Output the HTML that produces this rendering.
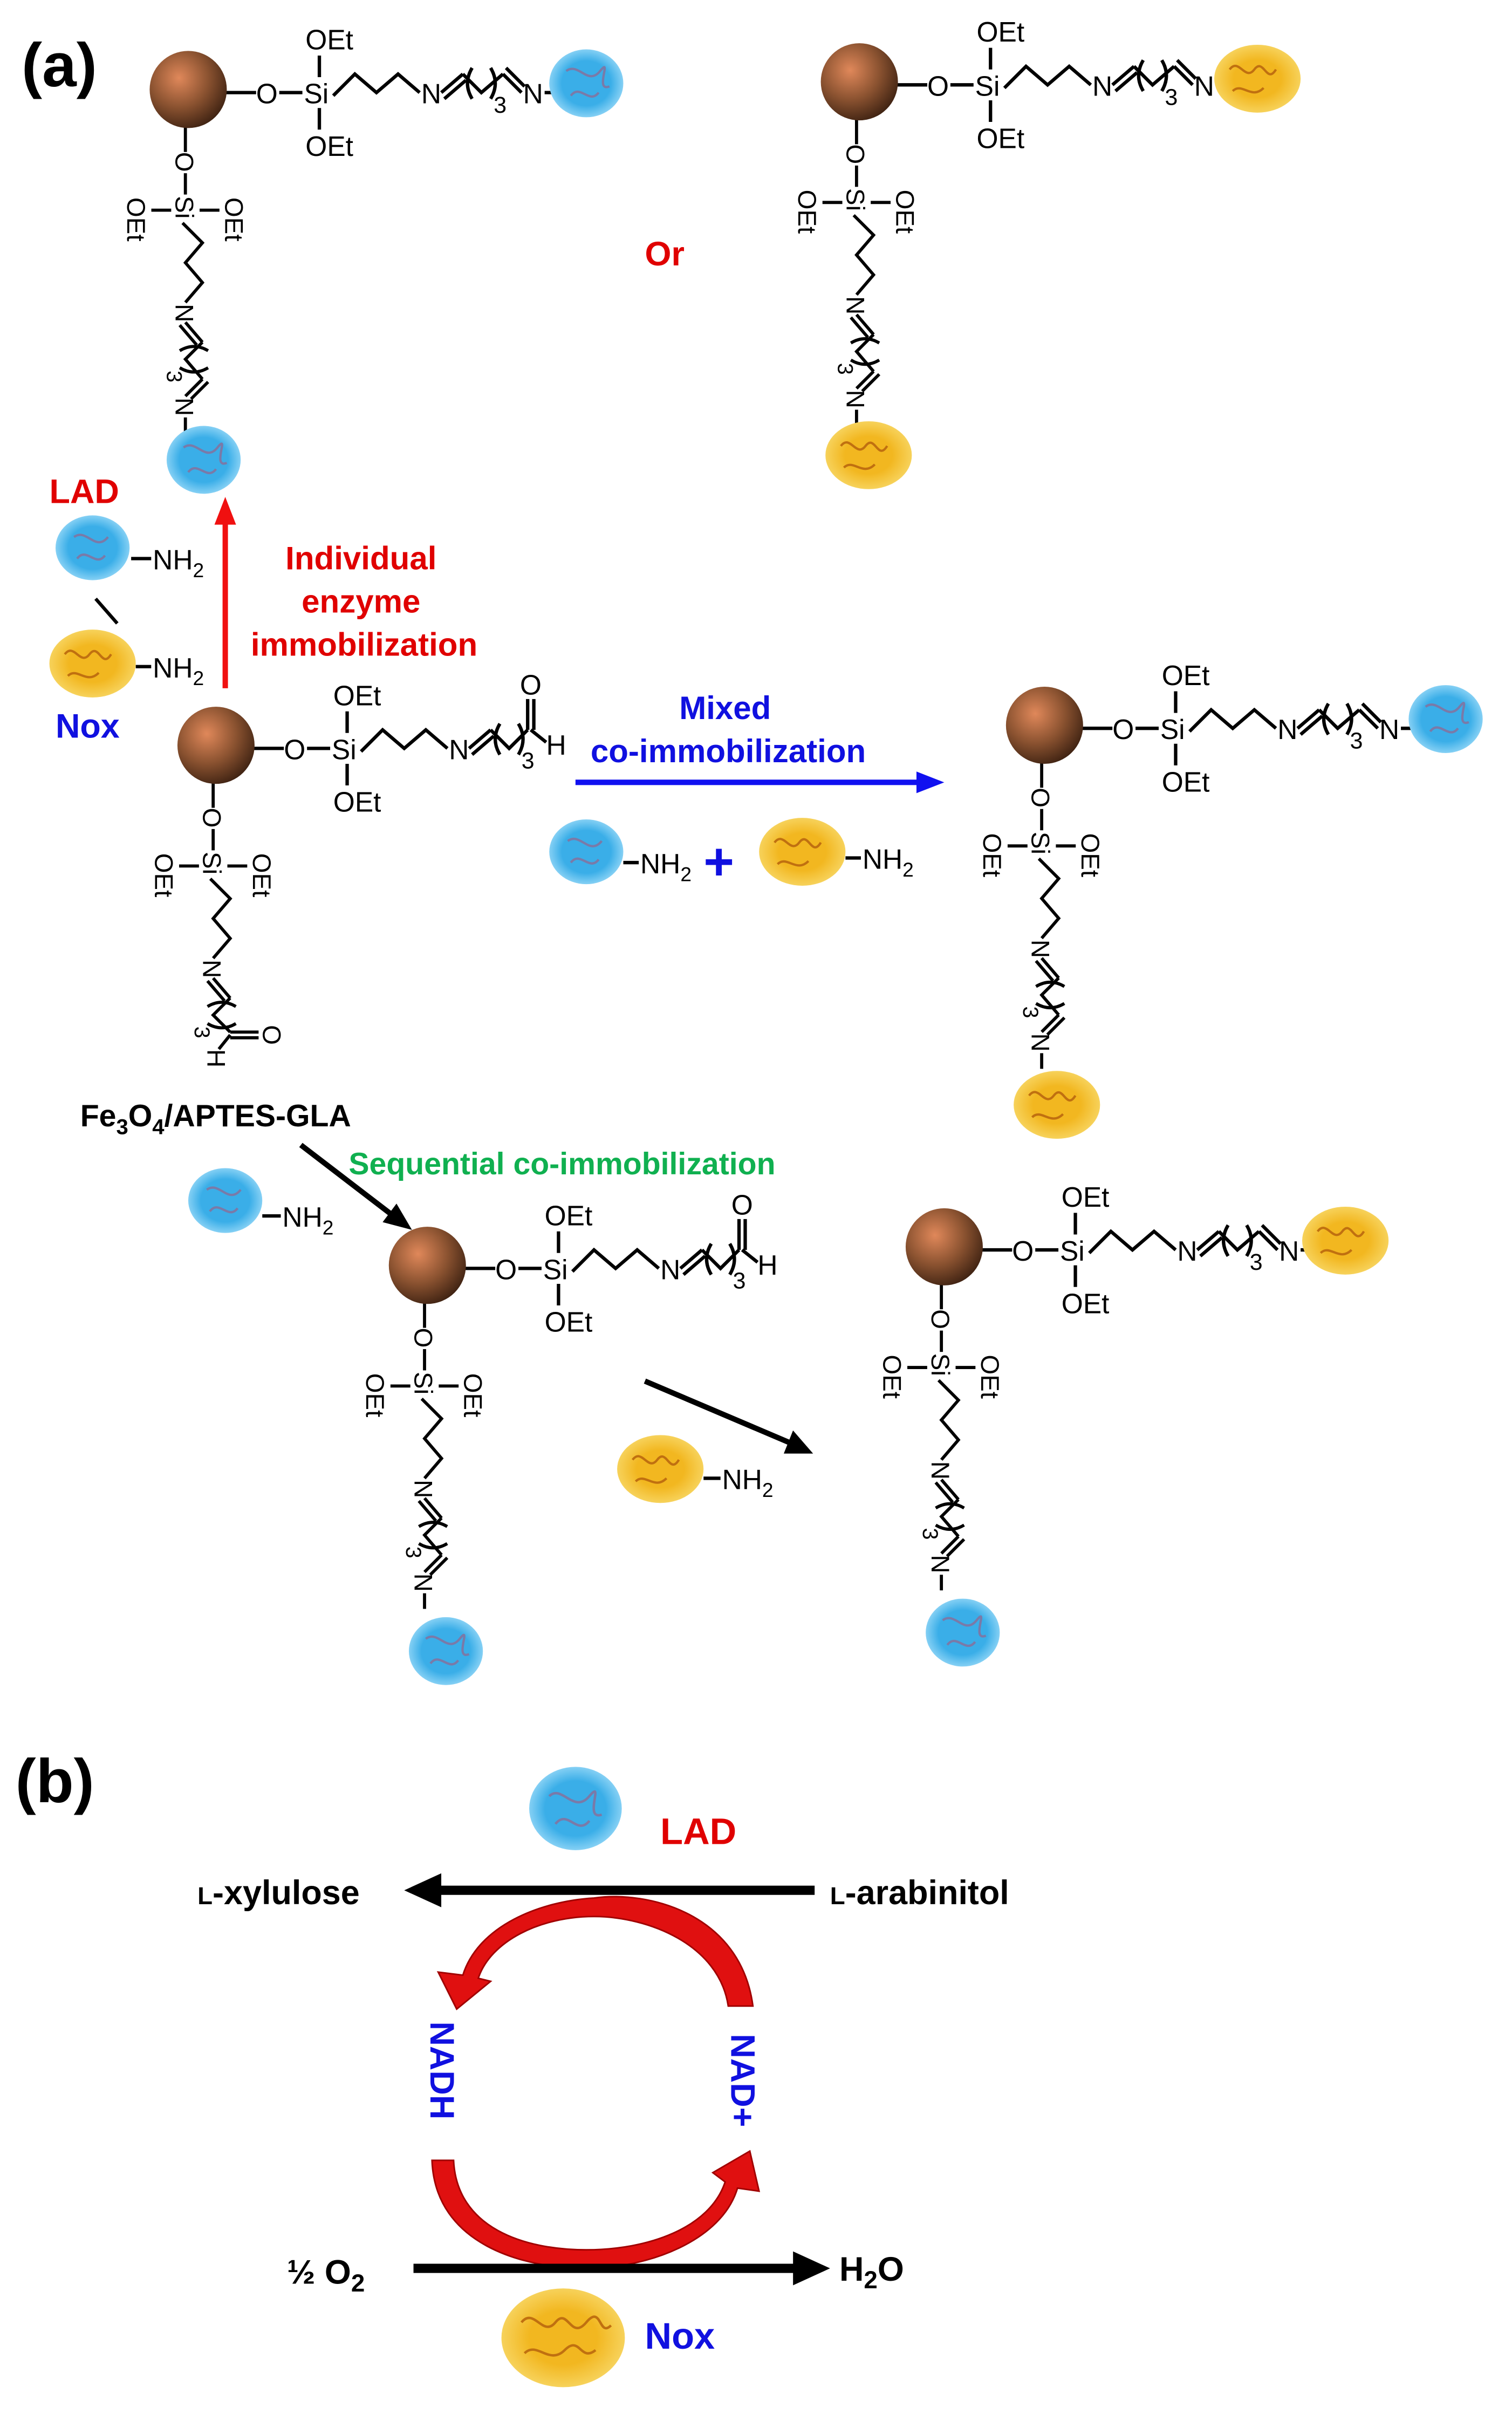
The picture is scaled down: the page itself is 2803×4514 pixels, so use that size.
<!DOCTYPE html>
<html><head><meta charset="utf-8"><style>
html,body{margin:0;padding:0;background:#fff;}
svg{display:block;}
text{font-family:"Liberation Sans",Arial,sans-serif;font-weight:bold;}
.c{fill:#000;font-size:18px;font-weight:normal;}
.b{stroke:#000;stroke-width:2.2;fill:none;}
</style></head><body>
<svg width="2803" height="4514" viewBox="0 0 980 1578" preserveAspectRatio="none" xmlns="http://www.w3.org/2000/svg">
<defs>
<radialGradient id="sp" cx="0.38" cy="0.35" r="0.7">
<stop offset="0" stop-color="#e0885a"/><stop offset="0.55" stop-color="#8a5230"/><stop offset="1" stop-color="#3e2212"/>
</radialGradient>
<radialGradient id="bl" cx="0.5" cy="0.5" r="0.55">
<stop offset="0.6" stop-color="#3aaee8"/><stop offset="1" stop-color="#9bdaf8"/>
</radialGradient>
<radialGradient id="yl" cx="0.5" cy="0.5" r="0.55">
<stop offset="0.5" stop-color="#f2b720"/><stop offset="1" stop-color="#f8d868"/>
</radialGradient>
</defs>

<!-- U1 -->
<g transform="translate(122,58)">
 <g>
  <line class="b" x1="24" y1="2" x2="44" y2="2"/><text class="c" x="44" y="9">O</text><line class="b" x1="59" y1="2" x2="74" y2="2"/><text class="c" x="75" y="9">Si</text>
  <line class="b" x1="85" y1="-8" x2="85" y2="-22"/><text class="c" x="76" y="-26">OEt</text>
  <line class="b" x1="85" y1="12" x2="85" y2="26"/><text class="c" x="76" y="43">OEt</text>
  <polyline class="b" points="94,4 108,-10 122,2 136,-10 150,2"/><text class="c" x="151" y="9">N</text>
  <path class="b" d="M164,2 L178,-10 M166,6 L180,-6"/><path class="b" d="M184,-14 q-6,10 0,20 M196,-14 q6,10 0,20 M178,-10 L190,2 L204,-10"/><text class="c" x="198" y="15" style="font-size:15px">3</text>
  <path class="b" d="M204,-10 L216,2 M206,-14 L218,-2"/><text class="c" x="217" y="9">N</text><line class="b" x1="231" y1="2" x2="242" y2="2"/>
 </g>
 <g transform="rotate(90) scale(0.92)">
  <line class="b" x1="24" y1="2" x2="44" y2="2"/><text class="c" x="44" y="9">O</text><line class="b" x1="59" y1="2" x2="74" y2="2"/><text class="c" x="75" y="9">Si</text>
  <line class="b" x1="85" y1="-8" x2="85" y2="-22"/><text class="c" x="76" y="-26">OEt</text>
  <line class="b" x1="85" y1="12" x2="85" y2="26"/><text class="c" x="76" y="43">OEt</text>
  <polyline class="b" points="94,4 108,-10 122,2 136,-10 150,2"/><text class="c" x="151" y="9">N</text>
  <path class="b" d="M164,2 L178,-10 M166,6 L180,-6"/><path class="b" d="M184,-14 q-6,10 0,20 M196,-14 q6,10 0,20 M178,-10 L190,2 L204,-10"/><text class="c" x="198" y="15" style="font-size:15px">3</text>
  <path class="b" d="M204,-10 L216,2 M206,-14 L218,-2"/><text class="c" x="217" y="9">N</text><line class="b" x1="231" y1="2" x2="242" y2="2"/>
 </g>
 <circle r="25" fill="url(#sp)"/>
 <ellipse cx="258" cy="-4" rx="24" ry="22" fill="url(#bl)"/><path d="M245,-12 c8,-6 14,10 22,0 s-4,14 6,10 M248,4 c6,-8 12,6 18,-2" stroke="#7a7aa8" stroke-width="1.5" fill="none"/>
 <ellipse cx="10" cy="240" rx="24" ry="22" fill="url(#bl)"/><path d="M-3,232 c8,-6 14,10 22,0 s-4,14 6,10 M0,248 c6,-8 12,6 18,-2" stroke="#7a7aa8" stroke-width="1.5" fill="none"/>
</g>

<!-- U2 -->
<g transform="translate(557,53)">
 <g>
  <line class="b" x1="24" y1="2" x2="44" y2="2"/><text class="c" x="44" y="9">O</text><line class="b" x1="59" y1="2" x2="74" y2="2"/><text class="c" x="75" y="9">Si</text>
  <line class="b" x1="85" y1="-8" x2="85" y2="-22"/><text class="c" x="76" y="-26">OEt</text>
  <line class="b" x1="85" y1="12" x2="85" y2="26"/><text class="c" x="76" y="43">OEt</text>
  <polyline class="b" points="94,4 108,-10 122,2 136,-10 150,2"/><text class="c" x="151" y="9">N</text>
  <path class="b" d="M164,2 L178,-10 M166,6 L180,-6"/><path class="b" d="M184,-14 q-6,10 0,20 M196,-14 q6,10 0,20 M178,-10 L190,2 L204,-10"/><text class="c" x="198" y="15" style="font-size:15px">3</text>
  <path class="b" d="M204,-10 L216,2 M206,-14 L218,-2"/><text class="c" x="217" y="9">N</text><line class="b" x1="231" y1="2" x2="242" y2="2"/>
 </g>
 <g transform="rotate(90) scale(0.92)">
  <line class="b" x1="24" y1="2" x2="44" y2="2"/><text class="c" x="44" y="9">O</text><line class="b" x1="59" y1="2" x2="74" y2="2"/><text class="c" x="75" y="9">Si</text>
  <line class="b" x1="85" y1="-8" x2="85" y2="-22"/><text class="c" x="76" y="-26">OEt</text>
  <line class="b" x1="85" y1="12" x2="85" y2="26"/><text class="c" x="76" y="43">OEt</text>
  <polyline class="b" points="94,4 108,-10 122,2 136,-10 150,2"/><text class="c" x="151" y="9">N</text>
  <path class="b" d="M164,2 L178,-10 M166,6 L180,-6"/><path class="b" d="M184,-14 q-6,10 0,20 M196,-14 q6,10 0,20 M178,-10 L190,2 L204,-10"/><text class="c" x="198" y="15" style="font-size:15px">3</text>
  <path class="b" d="M204,-10 L216,2 M206,-14 L218,-2"/><text class="c" x="217" y="9">N</text><line class="b" x1="231" y1="2" x2="242" y2="2"/>
 </g>
 <circle r="25" fill="url(#sp)"/>
 <ellipse cx="258" cy="-2" rx="28" ry="22" fill="url(#yl)"/><path d="M240,-8 c6,-8 10,8 16,0 s8,10 14,0 M242,6 c6,-6 12,6 20,-2" stroke="#c07010" stroke-width="1.5" fill="none"/>
 <ellipse cx="6" cy="242" rx="28" ry="22" fill="url(#yl)"/><path d="M-12,236 c6,-8 10,8 16,0 s8,10 14,0 M-10,250 c6,-6 12,6 20,-2" stroke="#c07010" stroke-width="1.5" fill="none"/>
</g>

<!-- U3 center aldehyde -->
<g transform="translate(140,483)">
 <g>
  <line class="b" x1="24" y1="2" x2="44" y2="2"/><text class="c" x="44" y="9">O</text><line class="b" x1="59" y1="2" x2="74" y2="2"/><text class="c" x="75" y="9">Si</text>
  <line class="b" x1="85" y1="-8" x2="85" y2="-22"/><text class="c" x="76" y="-26">OEt</text>
  <line class="b" x1="85" y1="12" x2="85" y2="26"/><text class="c" x="76" y="43">OEt</text>
  <polyline class="b" points="94,4 108,-10 122,2 136,-10 150,2"/><text class="c" x="151" y="9">N</text>
  <path class="b" d="M164,2 L178,-10 M166,6 L180,-6"/><path class="b" d="M184,-14 q-6,10 0,20 M196,-14 q6,10 0,20 M178,-10 L190,2 L202,-10"/><text class="c" x="198" y="15" style="font-size:15px">3</text>
  <path class="b" d="M202,-10 L202,-30 M206,-10 L206,-30 M204,-10 L214,-2"/><text class="c" x="197" y="-33">O</text><text class="c" x="214" y="6">H</text>
 </g>
 <g transform="rotate(90) scale(0.92)">
  <line class="b" x1="24" y1="2" x2="44" y2="2"/><text class="c" x="44" y="9">O</text><line class="b" x1="59" y1="2" x2="74" y2="2"/><text class="c" x="75" y="9">Si</text>
  <line class="b" x1="85" y1="-8" x2="85" y2="-22"/><text class="c" x="76" y="-26">OEt</text>
  <line class="b" x1="85" y1="12" x2="85" y2="26"/><text class="c" x="76" y="43">OEt</text>
  <polyline class="b" points="94,4 108,-10 122,2 136,-10 150,2"/><text class="c" x="151" y="9">N</text>
  <path class="b" d="M164,2 L178,-10 M166,6 L180,-6"/><path class="b" d="M184,-14 q-6,10 0,20 M196,-14 q6,10 0,20 M178,-10 L190,2 L202,-10"/><text class="c" x="198" y="15" style="font-size:15px">3</text>
  <path class="b" d="M202,-10 L202,-30 M206,-10 L206,-30 M204,-10 L214,-2"/><text class="c" x="197" y="-33">O</text><text class="c" x="214" y="6">H</text>
 </g>
 <circle r="25" fill="url(#sp)"/>
</g>

<!-- U4 mixed -->
<g transform="translate(677,470)">
 <g>
  <line class="b" x1="24" y1="2" x2="44" y2="2"/><text class="c" x="44" y="9">O</text><line class="b" x1="59" y1="2" x2="74" y2="2"/><text class="c" x="75" y="9">Si</text>
  <line class="b" x1="85" y1="-8" x2="85" y2="-22"/><text class="c" x="76" y="-26">OEt</text>
  <line class="b" x1="85" y1="12" x2="85" y2="26"/><text class="c" x="76" y="43">OEt</text>
  <polyline class="b" points="94,4 108,-10 122,2 136,-10 150,2"/><text class="c" x="151" y="9">N</text>
  <path class="b" d="M164,2 L178,-10 M166,6 L180,-6"/><path class="b" d="M184,-14 q-6,10 0,20 M196,-14 q6,10 0,20 M178,-10 L190,2 L204,-10"/><text class="c" x="198" y="15" style="font-size:15px">3</text>
  <path class="b" d="M204,-10 L216,2 M206,-14 L218,-2"/><text class="c" x="217" y="9">N</text><line class="b" x1="231" y1="2" x2="242" y2="2"/>
 </g>
 <g transform="rotate(90) scale(0.92)">
  <line class="b" x1="24" y1="2" x2="44" y2="2"/><text class="c" x="44" y="9">O</text><line class="b" x1="59" y1="2" x2="74" y2="2"/><text class="c" x="75" y="9">Si</text>
  <line class="b" x1="85" y1="-8" x2="85" y2="-22"/><text class="c" x="76" y="-26">OEt</text>
  <line class="b" x1="85" y1="12" x2="85" y2="26"/><text class="c" x="76" y="43">OEt</text>
  <polyline class="b" points="94,4 108,-10 122,2 136,-10 150,2"/><text class="c" x="151" y="9">N</text>
  <path class="b" d="M164,2 L178,-10 M166,6 L180,-6"/><path class="b" d="M184,-14 q-6,10 0,20 M196,-14 q6,10 0,20 M178,-10 L190,2 L204,-10"/><text class="c" x="198" y="15" style="font-size:15px">3</text>
  <path class="b" d="M204,-10 L216,2 M206,-14 L218,-2"/><text class="c" x="217" y="9">N</text><line class="b" x1="231" y1="2" x2="242" y2="2"/>
 </g>
 <circle r="25" fill="url(#sp)"/>
 <ellipse cx="260" cy="-4" rx="24" ry="22" fill="url(#bl)"/><path d="M247,-12 c8,-6 14,10 22,0 s-4,14 6,10 M250,4 c6,-8 12,6 18,-2" stroke="#7a7aa8" stroke-width="1.5" fill="none"/>
 <ellipse cx="8" cy="246" rx="28" ry="22" fill="url(#yl)"/><path d="M-10,240 c6,-8 10,8 16,0 s8,10 14,0 M-8,254 c6,-6 12,6 20,-2" stroke="#c07010" stroke-width="1.5" fill="none"/>
</g>

<!-- U5 sequential step 1 -->
<g transform="translate(277,820)">
 <g>
  <line class="b" x1="24" y1="2" x2="44" y2="2"/><text class="c" x="44" y="9">O</text><line class="b" x1="59" y1="2" x2="74" y2="2"/><text class="c" x="75" y="9">Si</text>
  <line class="b" x1="85" y1="-8" x2="85" y2="-22"/><text class="c" x="76" y="-26">OEt</text>
  <line class="b" x1="85" y1="12" x2="85" y2="26"/><text class="c" x="76" y="43">OEt</text>
  <polyline class="b" points="94,4 108,-10 122,2 136,-10 150,2"/><text class="c" x="151" y="9">N</text>
  <path class="b" d="M164,2 L178,-10 M166,6 L180,-6"/><path class="b" d="M184,-14 q-6,10 0,20 M196,-14 q6,10 0,20 M178,-10 L190,2 L202,-10"/><text class="c" x="198" y="15" style="font-size:15px">3</text>
  <path class="b" d="M202,-10 L202,-30 M206,-10 L206,-30 M204,-10 L214,-2"/><text class="c" x="197" y="-33">O</text><text class="c" x="214" y="6">H</text>
 </g>
 <g transform="rotate(90) scale(0.92)">
  <line class="b" x1="24" y1="2" x2="44" y2="2"/><text class="c" x="44" y="9">O</text><line class="b" x1="59" y1="2" x2="74" y2="2"/><text class="c" x="75" y="9">Si</text>
  <line class="b" x1="85" y1="-8" x2="85" y2="-22"/><text class="c" x="76" y="-26">OEt</text>
  <line class="b" x1="85" y1="12" x2="85" y2="26"/><text class="c" x="76" y="43">OEt</text>
  <polyline class="b" points="94,4 108,-10 122,2 136,-10 150,2"/><text class="c" x="151" y="9">N</text>
  <path class="b" d="M164,2 L178,-10 M166,6 L180,-6"/><path class="b" d="M184,-14 q-6,10 0,20 M196,-14 q6,10 0,20 M178,-10 L190,2 L204,-10"/><text class="c" x="198" y="15" style="font-size:15px">3</text>
  <path class="b" d="M204,-10 L216,2 M206,-14 L218,-2"/><text class="c" x="217" y="9">N</text><line class="b" x1="231" y1="2" x2="242" y2="2"/>
 </g>
 <circle r="25" fill="url(#sp)"/>
 <ellipse cx="12" cy="250" rx="24" ry="22" fill="url(#bl)"/><path d="M-1,242 c8,-6 14,10 22,0 s-4,14 6,10 M2,258 c6,-8 12,6 18,-2" stroke="#7a7aa8" stroke-width="1.5" fill="none"/>
</g>

<!-- U6 sequential final -->
<g transform="translate(612,808)">
 <g>
  <line class="b" x1="24" y1="2" x2="44" y2="2"/><text class="c" x="44" y="9">O</text><line class="b" x1="59" y1="2" x2="74" y2="2"/><text class="c" x="75" y="9">Si</text>
  <line class="b" x1="85" y1="-8" x2="85" y2="-22"/><text class="c" x="76" y="-26">OEt</text>
  <line class="b" x1="85" y1="12" x2="85" y2="26"/><text class="c" x="76" y="43">OEt</text>
  <polyline class="b" points="94,4 108,-10 122,2 136,-10 150,2"/><text class="c" x="151" y="9">N</text>
  <path class="b" d="M164,2 L178,-10 M166,6 L180,-6"/><path class="b" d="M184,-14 q-6,10 0,20 M196,-14 q6,10 0,20 M178,-10 L190,2 L204,-10"/><text class="c" x="198" y="15" style="font-size:15px">3</text>
  <path class="b" d="M204,-10 L216,2 M206,-14 L218,-2"/><text class="c" x="217" y="9">N</text><line class="b" x1="231" y1="2" x2="242" y2="2"/>
 </g>
 <g transform="rotate(90) scale(0.92)">
  <line class="b" x1="24" y1="2" x2="44" y2="2"/><text class="c" x="44" y="9">O</text><line class="b" x1="59" y1="2" x2="74" y2="2"/><text class="c" x="75" y="9">Si</text>
  <line class="b" x1="85" y1="-8" x2="85" y2="-22"/><text class="c" x="76" y="-26">OEt</text>
  <line class="b" x1="85" y1="12" x2="85" y2="26"/><text class="c" x="76" y="43">OEt</text>
  <polyline class="b" points="94,4 108,-10 122,2 136,-10 150,2"/><text class="c" x="151" y="9">N</text>
  <path class="b" d="M164,2 L178,-10 M166,6 L180,-6"/><path class="b" d="M184,-14 q-6,10 0,20 M196,-14 q6,10 0,20 M178,-10 L190,2 L204,-10"/><text class="c" x="198" y="15" style="font-size:15px">3</text>
  <path class="b" d="M204,-10 L216,2 M206,-14 L218,-2"/><text class="c" x="217" y="9">N</text><line class="b" x1="231" y1="2" x2="242" y2="2"/>
 </g>
 <circle r="25" fill="url(#sp)"/>
 <ellipse cx="260" cy="-4" rx="28" ry="22" fill="url(#yl)"/><path d="M242,-10 c6,-8 10,8 16,0 s8,10 14,0 M244,4 c6,-6 12,6 20,-2" stroke="#c07010" stroke-width="1.5" fill="none"/>
 <ellipse cx="12" cy="250" rx="24" ry="22" fill="url(#bl)"/><path d="M-1,242 c8,-6 14,10 22,0 s-4,14 6,10 M2,258 c6,-8 12,6 18,-2" stroke="#7a7aa8" stroke-width="1.5" fill="none"/>
</g>

<!-- labels (a) -->
<text x="14" y="56" style="font-size:40px">(a)</text>
<text x="418" y="172" fill="#e00000" style="font-size:22px">Or</text>
<text x="32" y="326" fill="#e00000" style="font-size:22px">LAD</text>
<text x="36" y="478" fill="#1010e0" style="font-size:22px">Nox</text>
<ellipse cx="60" cy="355" rx="24" ry="21" fill="url(#bl)"/><path d="M48,348 c8,-6 14,10 22,0 M50,362 c6,-8 12,6 18,-2" stroke="#7a7aa8" stroke-width="1.5" fill="none"/>
<line class="b" x1="85" y1="362" x2="98" y2="362"/><text class="c" x="99" y="369">NH<tspan dy="5" style="font-size:13px">2</tspan></text>
<line class="b" x1="62" y1="388" x2="76" y2="404"/>
<ellipse cx="60" cy="430" rx="28" ry="22" fill="url(#yl)"/><path d="M42,424 c6,-8 10,8 16,0 s8,10 14,0 M44,438 c6,-6 12,6 20,-2" stroke="#c07010" stroke-width="1.5" fill="none"/>
<line class="b" x1="88" y1="432" x2="98" y2="432"/><text class="c" x="99" y="439">NH<tspan dy="5" style="font-size:13px">2</tspan></text>
<line x1="146" y1="446" x2="146" y2="338" stroke="#f01010" stroke-width="3.5"/><polygon points="146,322 139,340 153,340" fill="#f01010"/>
<text fill="#e00000" style="font-size:21px" text-anchor="middle"><tspan x="234" y="369">Individual</tspan><tspan x="234" y="397">enzyme</tspan><tspan x="236" y="425">immobilization</tspan></text>
<text fill="#1010e0" style="font-size:21px" text-anchor="middle"><tspan x="470" y="466">Mixed</tspan><tspan x="472" y="494">co-immobilization</tspan></text>
<line x1="373" y1="507" x2="596" y2="507" stroke="#1010f0" stroke-width="3.5"/><polygon points="612,507 594,500 594,514" fill="#1010f0"/>
<ellipse cx="380" cy="552" rx="24" ry="21" fill="url(#bl)"/><path d="M368,545 c8,-6 14,10 22,0 M370,559 c6,-8 12,6 18,-2" stroke="#7a7aa8" stroke-width="1.5" fill="none"/>
<line class="b" x1="404" y1="559" x2="414" y2="559"/><text class="c" x="415" y="566">NH<tspan dy="5" style="font-size:13px">2</tspan></text>
<text x="456" y="570" fill="#1010e0" style="font-size:34px">+</text>
<ellipse cx="520" cy="552" rx="28" ry="22" fill="url(#yl)"/><path d="M502,546 c6,-8 10,8 16,0 s8,10 14,0 M504,560 c6,-6 12,6 20,-2" stroke="#c07010" stroke-width="1.5" fill="none"/>
<line class="b" x1="548" y1="556" x2="558" y2="556"/><text class="c" x="559" y="563">NH<tspan dy="5" style="font-size:13px">2</tspan></text>
<text x="52" y="730" style="font-size:20px">Fe<tspan dy="5" style="font-size:14px">3</tspan><tspan dy="-5">O</tspan><tspan dy="5" style="font-size:14px">4</tspan><tspan dy="-5">/APTES-GLA</tspan></text>
<text x="226" y="761" fill="#10b050" style="font-size:20px">Sequential co-immobilization</text>
<line x1="195" y1="742" x2="255" y2="788" stroke="#000" stroke-width="3.5"/><polygon points="267,797 248,792 257,780" fill="#000"/>
<ellipse cx="146" cy="778" rx="24" ry="21" fill="url(#bl)"/><path d="M134,771 c8,-6 14,10 22,0 M136,785 c6,-8 12,6 18,-2" stroke="#7a7aa8" stroke-width="1.5" fill="none"/>
<line class="b" x1="170" y1="788" x2="182" y2="788"/><text class="c" x="183" y="795">NH<tspan dy="5" style="font-size:13px">2</tspan></text>
<line x1="418" y1="895" x2="512" y2="935" stroke="#000" stroke-width="3.5"/><polygon points="527,942 508,942 514,927" fill="#000"/>
<ellipse cx="428" cy="952" rx="28" ry="22" fill="url(#yl)"/><path d="M410,946 c6,-8 10,8 16,0 s8,10 14,0 M412,960 c6,-6 12,6 20,-2" stroke="#c07010" stroke-width="1.5" fill="none"/>
<line class="b" x1="456" y1="958" x2="467" y2="958"/><text class="c" x="468" y="965">NH<tspan dy="5" style="font-size:13px">2</tspan></text>

<!-- (b) -->
<text x="10" y="1168" style="font-size:40px">(b)</text>
<ellipse cx="373" cy="1172" rx="30" ry="27" fill="url(#bl)"/><path d="M356,1164 c8,-8 16,12 26,0 s-4,16 8,12 M360,1182 c8,-10 14,8 22,-2" stroke="#7a7aa8" stroke-width="1.6" fill="none"/>
<text x="428" y="1195" fill="#e00000" style="font-size:24px">LAD</text>
<line x1="528" y1="1225" x2="282" y2="1225" stroke="#000" stroke-width="6"/><polygon points="262,1225 286,1214 286,1236" fill="#000"/>
<text x="128" y="1234" style="font-size:22px"><tspan style="font-size:16px">L</tspan>-xylulose</text>
<text x="538" y="1234" style="font-size:22px"><tspan style="font-size:16px">L</tspan>-arabinitol</text>
<path d="M488,1300 C480,1240 420,1225 385,1230 C350,1232 310,1248 300,1280 L284,1278 L296,1302 L318,1284 L310,1282 C318,1258 350,1242 385,1242 C420,1242 466,1260 472,1300 Z" fill="#e01010" stroke="#a00000" stroke-width="1"/>
<path d="M280,1400 C282,1455 340,1470 380,1470 C420,1470 468,1452 478,1418 L492,1420 L486,1394 L462,1408 L470,1414 C460,1444 420,1458 380,1458 C340,1458 296,1444 294,1400 Z" fill="#e01010" stroke="#a00000" stroke-width="1"/>
<text transform="translate(279,1310) rotate(90)" fill="#1010e0" style="font-size:22px">NADH</text>
<text transform="translate(474,1318) rotate(90)" fill="#1010e0" style="font-size:22px">NAD+</text>
<line x1="268" y1="1470" x2="515" y2="1470" stroke="#000" stroke-width="6"/><polygon points="538,1470 514,1459 514,1481" fill="#000"/>
<text x="186" y="1480" style="font-size:22px">½ O<tspan dy="5" style="font-size:16px">2</tspan></text>
<text x="544" y="1478" style="font-size:22px">H<tspan dy="5" style="font-size:16px">2</tspan><tspan dy="-5">O</tspan></text>
<ellipse cx="365" cy="1515" rx="40" ry="32" fill="url(#yl)"/><path d="M338,1505 c8,-10 14,10 22,0 s10,12 20,0 s8,10 16,2 M340,1525 c8,-8 16,8 26,-2 s10,8 20,0" stroke="#c07010" stroke-width="1.6" fill="none"/>
<text x="418" y="1522" fill="#1010e0" style="font-size:24px">Nox</text>
</svg>
</body></html>
